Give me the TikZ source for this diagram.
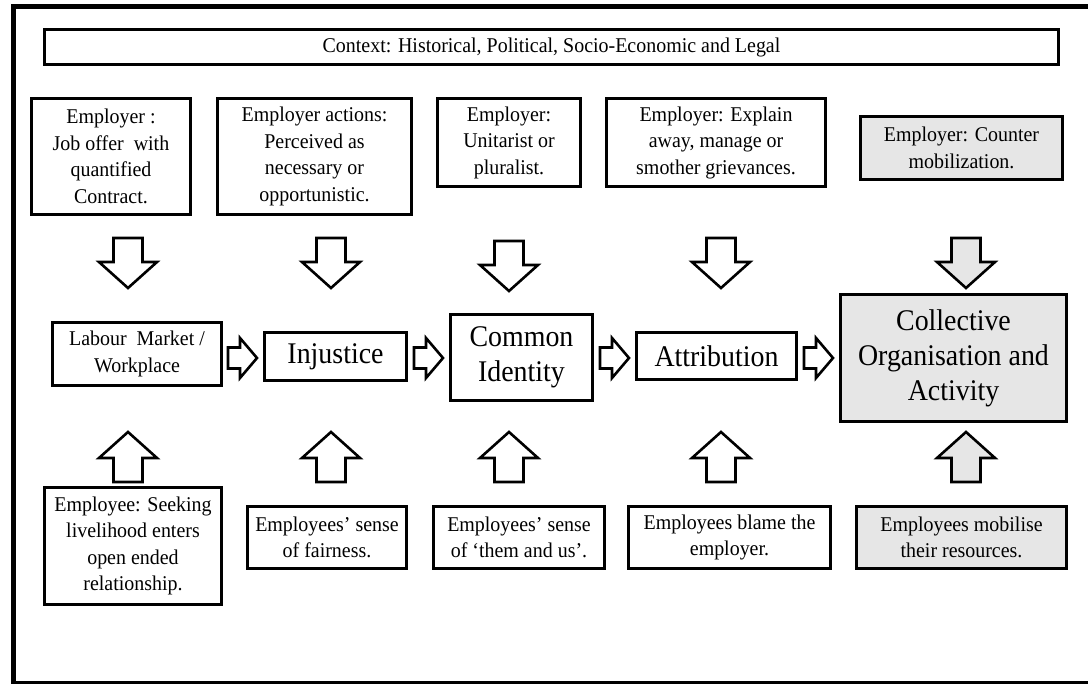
\documentclass[tikz,border=0pt]{standalone}
\usepackage{fontspec}
\setmainfont{Liberation Serif}
\newfontfamily\smallserif[FakeStretch=0.95]{Liberation Serif}
\newfontfamily\bigserif[FakeStretch=0.93]{Liberation Serif}
\definecolor{boxgray}{HTML}{E6E6E6}
\tikzset{
  box/.style={draw, line width=2.8pt, rectangle, inner sep=0pt, align=center, font=\smallserif\fontsize{21}{26.5}\selectfont},
  bigbox/.style={box, font=\bigserif\fontsize{30}{35}\selectfont},
  graybox/.style={fill=boxgray},
  blk/.style={draw, line width=2.6pt, line join=miter},
  pics/blockdown/.style={code={\draw[blk,fill=#1] (0,0) -- (-29,-26) -- (-14.5,-26) -- (-14.5,-50) -- (14.5,-50) -- (14.5,-26) -- (29,-26) -- cycle;}},
  pics/blockright/.style={code={\draw[blk,fill=#1] (0,0) -- (-17,-20) -- (-17,-10.5) -- (-29,-10.5) -- (-29,10.5) -- (-17,10.5) -- (-17,20) -- cycle;}},
}
\begin{document}
\begin{tikzpicture}[x=1pt,y=-1pt]
\useasboundingbox (0,0) rectangle (1088,684);
\fill[white] (0,0) rectangle (1088,684);
% outer frame (open on the right)
\draw[line width=4.5pt, line join=miter] (1095,6.5) -- (13.5,6.5) -- (13.5,683) -- (1095,683);

% context
\node[box, minimum width=1014pt, minimum height=35pt] (ctx) at (551.5,47) {Context: Historical, Political, Socio-Economic and Legal};

% employer row
\node[box, minimum width=159pt, minimum height=116pt] (t1) at (111,156.5) {Employer :\\Job offer\ \ with\\quantified\\Contract.};
\node[box, minimum width=194pt, minimum height=116pt] (t2) at (314.5,156.5) {Employer actions:\\Perceived as\\necessary or\\opportunistic.};
\node[box, minimum width=143pt, minimum height=88pt] (t3) at (509,142.5) {Employer:\\Unitarist or\\pluralist.};
\node[box, minimum width=219pt, minimum height=88pt] (t4) at (716,142.5) {Employer: Explain\\away, manage or\\smother grievances.};
\node[box, graybox, minimum width=202pt, minimum height=63pt] (t5) at (961.5,148) {Employer: Counter\\mobilization.};

% main row
\node[box, minimum width=169pt, minimum height=63pt] (labour) at (137,354) {Labour\ \ Market /\\Workplace};
\node[bigbox, minimum width=142pt, minimum height=48pt] (inj) at (335.5,356.5) {Injustice};
\node[bigbox, minimum width=142pt, minimum height=86pt] (common) at (521.5,357.5) {Common\\Identity};
\node[bigbox, minimum width=160pt, minimum height=47pt] (attr) at (716.5,356) {Attribution};
\node[bigbox, graybox, minimum width=226pt, minimum height=127pt] (coll) at (953.5,358) {Collective\\Organisation and\\Activity};

% employee row
\node[box, minimum width=177pt, minimum height=117pt] (b1) at (133,546) {Employee: Seeking\\livelihood enters\\open ended\\relationship.};
\node[box, minimum width=159pt, minimum height=62pt] (b2) at (327,537.5) {Employees’ sense\\of fairness.};
\node[box, minimum width=171pt, minimum height=62pt] (b3) at (519,537.5) {Employees’ sense\\of ‘them and us’.};
\node[box, minimum width=202pt, minimum height=62pt] (b4) at (729.5,537.5) {Employees blame the\\employer.};
\node[box, graybox, minimum width=210pt, minimum height=62pt] (b5) at (961.5,537.5) {Employees mobilise\\their resources.};

% down arrows
\pic at (128,288) {blockdown=white};
\pic at (331,288) {blockdown=white};
\pic at (509,291) {blockdown=white};
\pic at (721,288) {blockdown=white};
\pic at (966,288) {blockdown=boxgray};

% up arrows
\pic[rotate=180] at (128,432) {blockdown=white};
\pic[rotate=180] at (331,432) {blockdown=white};
\pic[rotate=180] at (509,432) {blockdown=white};
\pic[rotate=180] at (721,432) {blockdown=white};
\pic[rotate=180] at (966,432) {blockdown=boxgray};

% right arrows
\pic at (257,358) {blockright=white};
\pic at (443,358) {blockright=white};
\pic at (629,358) {blockright=white};
\pic at (833,358) {blockright=white};
\end{tikzpicture}
\end{document}
